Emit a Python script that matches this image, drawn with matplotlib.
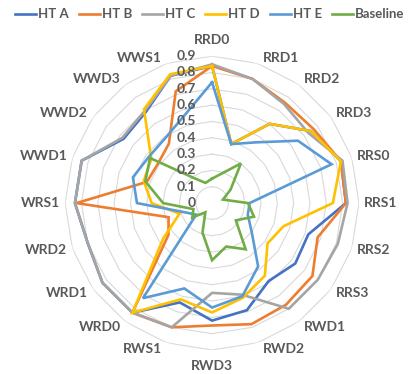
import numpy as np
import matplotlib
matplotlib.use('Agg')
from matplotlib import pyplot as plt
from matplotlib.transforms import offset_copy

plt.rcParams['font.family'] = ['Lato', 'DejaVu Sans']

categories = ['RRD0', 'RRD1', 'RRD2', 'RRD3', 'RRS0', 'RRS1', 'RRS2', 'RRS3', 'RWD1', 'RWD2',
              'RWD3', 'RWS1', 'WRD0', 'WRD1', 'WRD2', 'WRS1', 'WWD1', 'WWD2', 'WWD3', 'WWS1']
ht_a = [0.84, 0.38, 0.60, 0.75, 0.83, 0.82, 0.62, 0.63, 0.59, 0.69,
        0.72, 0.64, 0.83, 0.83, 0.80, 0.84, 0.84, 0.67, 0.69, 0.82]
ht_b = [0.84, 0.80, 0.76, 0.77, 0.83, 0.82, 0.68, 0.76, 0.77, 0.78,
        0.75, 0.80, 0.83, 0.33, 0.28, 0.83, 0.42, 0.41, 0.45, 0.72]
ht_c = [0.85, 0.80, 0.75, 0.73, 0.84, 0.83, 0.81, 0.80, 0.80, 0.59,
        0.55, 0.80, 0.83, 0.83, 0.80, 0.84, 0.84, 0.68, 0.70, 0.82]
ht_d = [0.84, 0.38, 0.60, 0.75, 0.83, 0.74, 0.46, 0.42, 0.55, 0.61,
        0.67, 0.62, 0.83, 0.37, 0.21, 0.37, 0.44, 0.46, 0.71, 0.83]
ht_e = [0.74, 0.38, 0.46, 0.65, 0.77, 0.23, 0.23, 0.30, 0.48, 0.60,
        0.64, 0.55, 0.72, 0.12, 0.18, 0.46, 0.51, 0.48, 0.49, 0.56]
baseline = [0.15, 0.19, 0.30, 0.14, 0.07, 0.22, 0.27, 0.18, 0.35, 0.28,
            0.35, 0.19, 0.07, 0.15, 0.12, 0.30, 0.43, 0.47, 0.19, 0.13]

series_names = ['HT A', 'HT B', 'HT C', 'HT D', 'HT E', 'Baseline']
r_ticks = [0, 0.1, 0.2, 0.3, 0.4, 0.5, 0.6, 0.7, 0.8, 0.9]
r_labels = ['0', '0.1', '0.2', '0.3', '0.4', '0.5', '0.6', '0.7', '0.8', '0.9']

colors = ['#4472C4', '#ED7D31', '#A5A5A5', '#FFC000', '#5B9BD5', '#70AD47']
TEXT = '#595959'
GRID = '#D9D9D9'

fig = plt.figure(figsize=(4.15, 3.74), dpi=100)
ax = fig.add_axes([0.157, 0.064, 0.708, 0.786], projection='polar')
ax.set_theta_offset(np.pi / 2)
ax.set_theta_direction(-1)
ax.set_ylim(0, 0.9)
ax.grid(False)
ax.spines['polar'].set_visible(False)
ax.set_xticks([])
ax.set_yticks([])
ax.patch.set_alpha(0)

n = len(categories)
angles = np.arange(n) * 2 * np.pi / n
closed = np.append(angles, angles[0])

# polygon gridlines like excel
for lv in r_ticks[1:]:
    ax.plot(closed, [lv] * (n + 1), color=GRID, lw=0.8, zorder=0)

all_series = [ht_a, ht_b, ht_c, ht_d, ht_e, baseline]
handles = []
for vals, name, col in zip(all_series, series_names, colors):
    line, = ax.plot(closed, vals + vals[:1], color=col, lw=1.9, label=name,
                    solid_joinstyle='miter', zorder=2)
    handles.append(line)

# radial tick labels left of vertical axis
for v, lab in zip(r_ticks, r_labels):
    ax.text(0, v, lab, ha='right', va='center', fontsize=10, fontweight='bold', color=TEXT,
            transform=offset_copy(ax.transData, fig=fig, x=-16, y=0, units='dots'))

# category labels
for ang, name in zip(angles, categories):
    s, c = np.sin(ang), np.cos(ang)
    if abs(s) < 0.05:
        ha = 'center'
        va = 'bottom' if c > 0 else 'top'
        dx, dy = 0, 10 * np.sign(c)
    else:
        ha = 'left' if s > 0 else 'right'
        va = 'center'
        dx, dy = 5 * np.sign(s), 6 * c
    ax.text(ang, 0.9, name, ha=ha, va=va, fontsize=10, fontweight='bold', color=TEXT,
            transform=offset_copy(ax.transData, fig=fig, x=dx, y=dy, units='dots'))

leg = fig.legend(handles=handles, loc='upper center', bbox_to_anchor=(0.505, 1.01), ncol=6,
                 frameon=False, handlelength=1.6, handletextpad=0.15, columnspacing=0.75,
                 prop={'weight': 'bold', 'size': 9.5})
for t in leg.get_texts():
    t.set_color(TEXT)

fig.savefig('out.png', dpi=100)
